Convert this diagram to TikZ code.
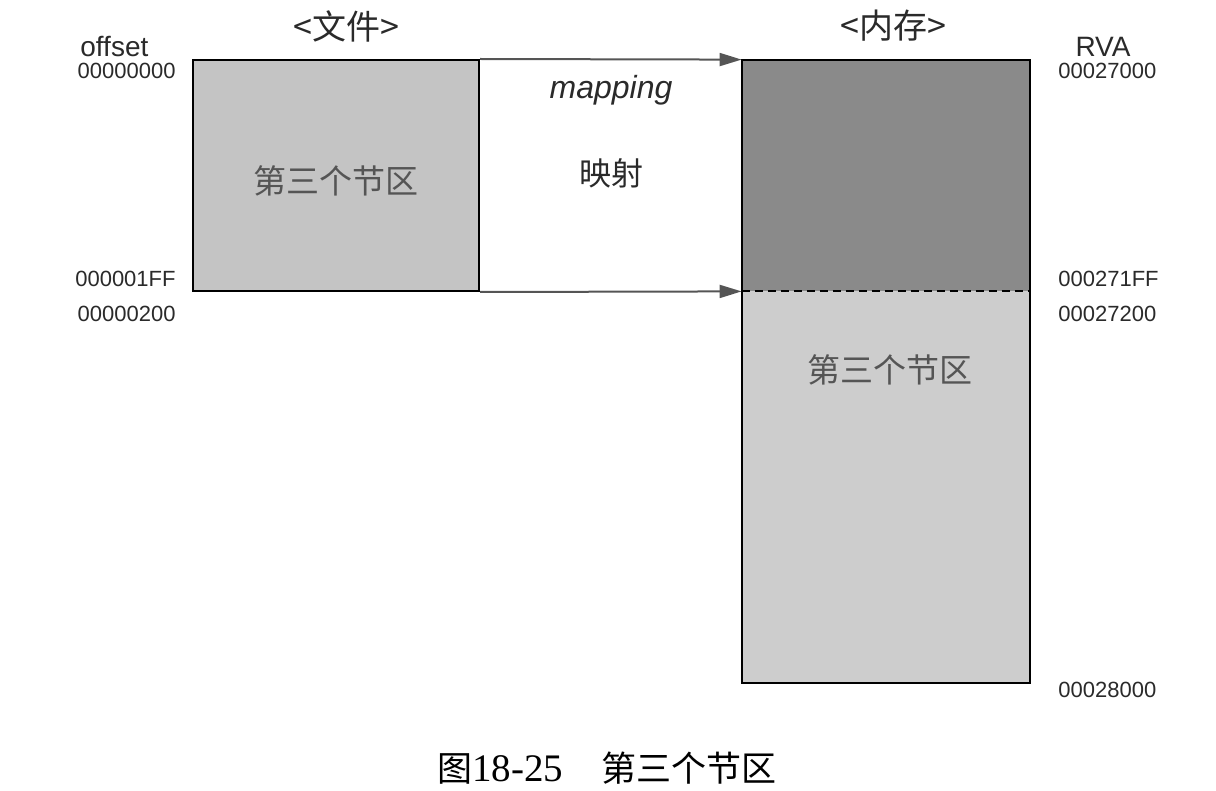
\documentclass[tikz,border=0pt]{standalone}
\usepackage{fontspec}
\setmainfont{Liberation Sans}
\newfontfamily\cjk{Noto Sans CJK SC}
\newfontfamily\capserif{Liberation Serif}
\usetikzlibrary{arrows.meta,fit}
\definecolor{filegray}{HTML}{C4C4C4}
\definecolor{darkgray}{HTML}{8A8A8A}
\definecolor{lightgray}{HTML}{CDCDCD}
\definecolor{boxtext}{HTML}{555555}
\definecolor{arrowgray}{HTML}{555555}
\definecolor{labtext}{HTML}{2A2A2A}
\begin{document}
\begin{tikzpicture}[x=0.5pt,y=-0.5pt,
  secbox/.style={inner sep=0pt, draw=black, line width=1pt},
  numlab/.style={font=\fontsize{11}{12}\selectfont, text=labtext, inner sep=0pt},
  headlab/.style={font=\fontsize{14}{16}\selectfont, text=labtext, inner sep=0pt},
  titlelab/.style={font=\cjk\fontsize{17}{20}\selectfont, text=labtext, inner sep=0pt},
  boxlab/.style={font=\cjk\fontsize{16.5}{19}\selectfont, text=boxtext, inner sep=0pt},
  maparrow/.style={draw=arrowgray, line width=1pt, -{Triangle[length=11pt,width=6.5pt]}}
]
\useasboundingbox (0,0) rectangle (1216,791);

% file section
\node[secbox, fill=filegray, fit={(193,60)(479,291)}] (file) {};
\node[boxlab] (filetxt) at (336,181) {第三个节区};

% memory sections
\node[inner sep=0pt, fill=darkgray, fit={(742,60)(1030,291)}] (memtop) {};
\node[inner sep=0pt, fill=lightgray, fit={(742,291)(1030,683)}] (membot) {};
\draw[line width=1pt] (memtop.north west) rectangle (membot.south east);
\draw[line width=1pt, dashed, dash pattern=on 4pt off 2.5pt] (memtop.south west) -- (memtop.south east);
\node[boxlab] (memtxt) at (890,370) {第三个节区};

% mapping arrows
\draw[maparrow] (file.north east) -- (memtop.north west);
\draw[maparrow] (file.south east) -- (memtop.south west);
\node[font=\itshape\fontsize{16}{18}\selectfont, text=labtext, inner sep=0pt] (maptxt) at (611,90) {mapping};
\node[font=\cjk\fontsize{16}{18}\selectfont, text=labtext, inner sep=0pt] (mapcn) at (611,173) {映射};

% titles
\node[titlelab] (filetitle) at (346,26) {<文件>};
\node[titlelab] (memtitle) at (893,26) {<内存>};

% left labels
\node[headlab, anchor=west] (offset) at (80,47) {offset};
\node[numlab, anchor=east] (o1) at (176,71) {00000000};
\node[numlab, anchor=east] (o2) at (176,279) {000001FF};
\node[numlab, anchor=east] (o3) at (176,314) {00000200};

% right labels
\node[headlab] (rva) at (1103,47) {RVA};
\node[numlab, anchor=west] (r1) at (1058,71) {00027000};
\node[numlab, anchor=west] (r2) at (1058,279) {000271FF};
\node[numlab, anchor=west] (r3) at (1058,314) {00027200};
\node[numlab, anchor=west] (r4) at (1058,690) {00028000};

% caption
\node[anchor=west, inner sep=0pt, text=black] (caption) at (437,768)
  {{\cjk\fontsize{17.5}{20}\selectfont 图}{\capserif\fontsize{19.5}{22}\selectfont 18-25}\hspace{19pt}{\cjk\fontsize{17.5}{20}\selectfont 第三个节区}};
\end{tikzpicture}
\end{document}
